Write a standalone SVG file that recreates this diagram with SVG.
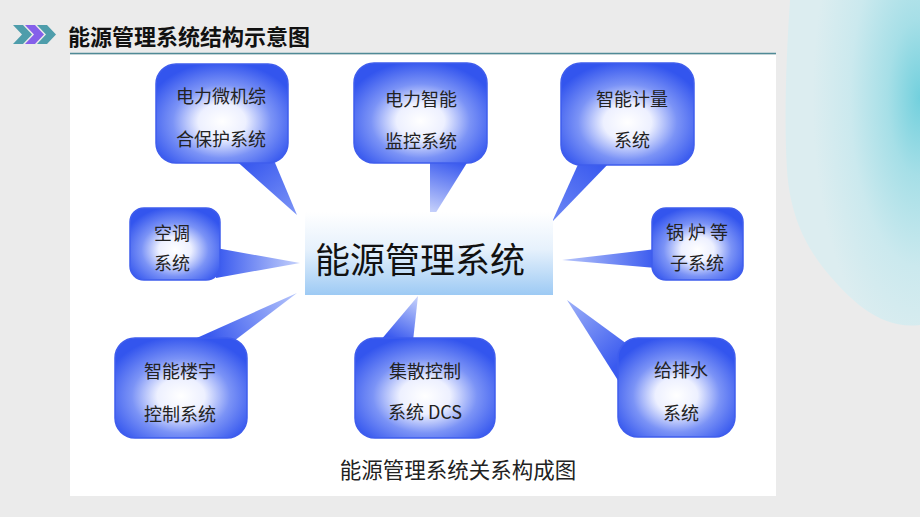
<svg xmlns="http://www.w3.org/2000/svg" width="920" height="517" viewBox="0 0 920 517">
<style>
.bt{font-family:"Noto Sans CJK SC","Noto Sans",sans-serif;font-size:18px;fill:#222;text-anchor:middle}
.box{fill:url(#bub);stroke:#3f5ded;stroke-width:1.5}
.ttl{font-family:"Noto Sans CJK SC","Noto Sans",sans-serif;font-size:22px;font-weight:bold;fill:#111}
</style>
<defs>
<radialGradient id="bub" cx="50%" cy="58%" r="60%">
<stop offset="0" stop-color="#ffffff"/>
<stop offset="0.3" stop-color="#edf0ff"/>
<stop offset="0.62" stop-color="#7b93f6"/>
<stop offset="1" stop-color="#3355ee"/>
</radialGradient>
<linearGradient id="ctr" x1="0" y1="0" x2="0" y2="1">
<stop offset="0" stop-color="#ffffff"/>
<stop offset="0.45" stop-color="#e6f1fc"/>
<stop offset="1" stop-color="#9dcaf4"/>
</linearGradient>
<linearGradient id="t1" gradientUnits="userSpaceOnUse" x1="253" y1="160" x2="297" y2="215"><stop offset="0" stop-color="#3a5aef"/><stop offset="1" stop-color="#7d95f6"/></linearGradient>
<linearGradient id="t2" gradientUnits="userSpaceOnUse" x1="450" y1="160" x2="430" y2="222"><stop offset="0" stop-color="#3a5aef"/><stop offset="1" stop-color="#dfe6fd"/></linearGradient>
<linearGradient id="t3" gradientUnits="userSpaceOnUse" x1="596" y1="162" x2="552" y2="222"><stop offset="0" stop-color="#3a5aef"/><stop offset="1" stop-color="#6f89f5"/></linearGradient>
<linearGradient id="t4" gradientUnits="userSpaceOnUse" x1="655" y1="258" x2="562" y2="259"><stop offset="0" stop-color="#3a5aef"/><stop offset="1" stop-color="#b9c7fb"/></linearGradient>
<linearGradient id="t5" gradientUnits="userSpaceOnUse" x1="218" y1="262" x2="300" y2="262"><stop offset="0" stop-color="#3a5aef"/><stop offset="1" stop-color="#c6d2fb"/></linearGradient>
<linearGradient id="t7" gradientUnits="userSpaceOnUse" x1="212" y1="340" x2="297" y2="293"><stop offset="0" stop-color="#3a5aef"/><stop offset="1" stop-color="#b7c6fb"/></linearGradient>
<linearGradient id="t8" gradientUnits="userSpaceOnUse" x1="396" y1="340" x2="418" y2="296"><stop offset="0" stop-color="#3a5aef"/><stop offset="1" stop-color="#c9d4fb"/></linearGradient>
<linearGradient id="t9" gradientUnits="userSpaceOnUse" x1="622" y1="360" x2="567" y2="300"><stop offset="0" stop-color="#3a5aef"/><stop offset="1" stop-color="#9db0f8"/></linearGradient>
<radialGradient id="wc" cx="100%" cy="30%" r="80%">
<stop offset="0" stop-color="#72d0dd"/>
<stop offset="0.3" stop-color="#a6dfe7"/>
<stop offset="0.65" stop-color="#cbe9ee"/>
<stop offset="1" stop-color="#dcedf0"/>
</radialGradient>
<polygon id="chev" points="0,0 10,0 19,9.5 10,19 0,19 9,9.5"/>
</defs>

<rect x="0" y="0" width="920" height="517" fill="#ebebeb"/>
<path d="M790,0 L920,0 L920,325 C880,330 850,300 825,270 C805,245 790,215 787,170 C784,120 786,60 790,0 Z" fill="url(#wc)"/>

<g id="header">
<use href="#chev" x="13" y="25" fill="#4e9dab"/>
<use href="#chev" x="25" y="25" fill="#8560ea"/>
<use href="#chev" x="37" y="25" fill="#4e9dab"/>
<text class="ttl" x="68" y="45">能源管理系统结构示意图</text>
</g>
<line x1="70" y1="53.5" x2="776" y2="53.5" stroke="#4f8a96" stroke-width="1.5"/>
<rect x="70" y="55" width="706" height="441" fill="#ffffff"/>

<g id="connectors">
<polygon points="233,158 273,158 297,215" fill="url(#t1)"/>
<polygon points="430,158 470,158 430,222" fill="url(#t2)"/>
<polygon points="580,160 612,160 552,222" fill="url(#t3)"/>
<polygon points="656,249 656,268 562,260" fill="url(#t4)"/>
<polygon points="216,248 216,278 300,263" fill="url(#t5)"/>
<polygon points="190,341 234,341 297,293" fill="url(#t7)"/>
<polygon points="380,341 413,341 418,296" fill="url(#t8)"/>
<polygon points="627,344 619,382 567,300" fill="url(#t9)"/>
</g>

<g id="center">
<rect x="305" y="212" width="248" height="83" fill="url(#ctr)"/>
<text x="420" y="273" font-family="'Noto Sans CJK SC','Noto Sans',sans-serif" font-size="35" fill="#111" text-anchor="middle">能源管理系统</text>
</g>

<g id="n1">
<rect class="box" x="156" y="64" width="132" height="99" rx="20"/>
<text class="bt" x="221" y="103">电力微机综</text>
<text class="bt" x="221" y="146">合保护系统</text>
</g>
<g id="n2">
<rect class="box" x="354" y="63" width="133" height="100" rx="20"/>
<text class="bt" x="421" y="106">电力智能</text>
<text class="bt" x="421" y="148">监控系统</text>
</g>
<g id="n3">
<rect class="box" x="561" y="63" width="133" height="102" rx="20"/>
<text class="bt" x="632" y="106">智能计量</text>
<text class="bt" x="632" y="147">系统</text>
</g>
<g id="n4">
<rect class="box" x="652" y="208" width="91" height="72" rx="14"/>
<text class="bt" x="697" y="239">锅 炉 等</text>
<text class="bt" x="697" y="270">子系统</text>
</g>
<g id="n5">
<rect class="box" x="130" y="208" width="90" height="72" rx="14"/>
<text class="bt" x="172" y="240">空调</text>
<text class="bt" x="172" y="270">系统</text>
</g>
<g id="n7">
<rect class="box" x="115" y="338" width="132" height="100" rx="20"/>
<text class="bt" x="180" y="378">智能楼宇</text>
<text class="bt" x="180" y="421">控制系统</text>
</g>
<g id="n8">
<rect class="box" x="355" y="338" width="140" height="100" rx="20"/>
<text class="bt" x="425" y="378">集散控制</text>
<text class="bt" x="425" y="419">系统 DCS</text>
</g>
<g id="n9">
<rect class="box" x="618" y="338" width="117" height="99" rx="20"/>
<text class="bt" x="681" y="377">给排水</text>
<text class="bt" x="681" y="420">系统</text>
</g>

<text x="458" y="478" font-family="'Noto Sans CJK SC','Noto Sans',sans-serif" font-size="21.5" fill="#222" text-anchor="middle">能源管理系统关系构成图</text>
</svg>
